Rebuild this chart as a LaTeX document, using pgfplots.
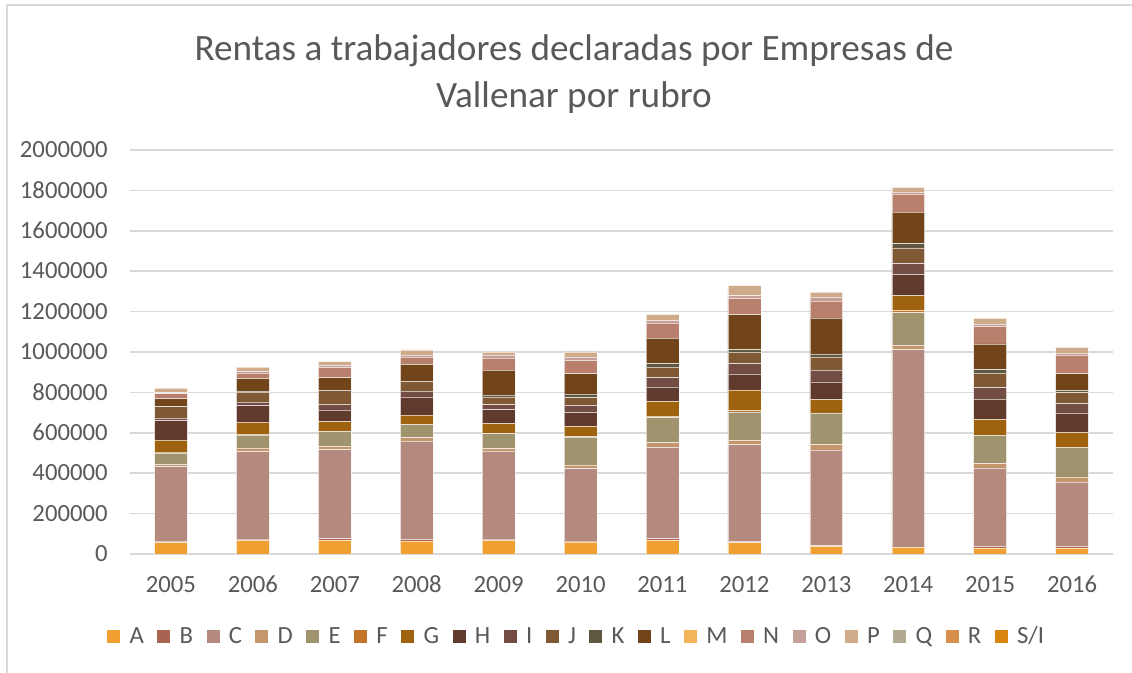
\documentclass[border=0pt]{standalone}
\usepackage{pgfplots}
\pgfplotsset{compat=1.18}
\usepackage{pgfplotstable}
\usepackage{fontspec}
\setmainfont{Carlito}

\definecolor{cText}{HTML}{595959}
\definecolor{cGrid}{HTML}{D9D9D9}
\definecolor{cA}{HTML}{F0A030}
\definecolor{cB}{HTML}{A86450}
\definecolor{cC}{HTML}{B58A7E}
\definecolor{cD}{HTML}{C4966C}
\definecolor{cE}{HTML}{A0946F}
\definecolor{cF}{HTML}{C27428}
\definecolor{cG}{HTML}{9F620E}
\definecolor{cH}{HTML}{613A2E}
\definecolor{cI}{HTML}{734C43}
\definecolor{cJ}{HTML}{7F5834}
\definecolor{cK}{HTML}{5F5841}
\definecolor{cL}{HTML}{72441A}
\definecolor{cM}{HTML}{F4B45A}
\definecolor{cN}{HTML}{B97F6D}
\definecolor{cO}{HTML}{C5A099}
\definecolor{cP}{HTML}{D0AB89}
\definecolor{cQ}{HTML}{B1A990}
\definecolor{cR}{HTML}{D88E4C}
\definecolor{cSI}{HTML}{D9860F}

% values per rubro
\pgfplotstableread{
idx year A     B    C      D     E      F     G      H      I     J     K     L      M Q R N     O     P     SI
0   2005 56000 8000 368000 12000 57000  3000  60000  96000  12000 57000 2000  38000  0 0 0 25000 5000  22000 0
1   2006 68000 5000 434000 17000 66000  2000  61000  82000  17000 51000 2000  64000  0 0 0 28000 7000  21000 0
2   2007 68000 8000 441000 16000 74000  3000  47000  56000  28000 69000 2000  61000  0 0 0 51000 10000 18000 0
3   2008 64000 8000 487000 17000 66000  2000  43000  91000  28000 48000 2000  83000  0 0 0 35000 11000 25000 0
4   2009 68000 5000 436000 13000 74000  2000  49000  68000  25000 38000 8000  124000 0 0 0 61000 15000 13000 0
5   2010 60000 4000 358000 18000 139000 2000  51000  69000  35000 38000 17000 102000 0 0 0 66000 16000 25000 0
6   2011 68000 8000 452000 23000 124000 7000  74000  71000  46000 52000 17000 127000 0 0 0 74000 13000 30000 0
7   2012 56000 7000 479000 21000 140000 8000  102000 79000  51000 56000 13000 173000 0 0 0 81000 13000 50000 0
8   2013 38000 4000 474000 25000 157000 1000  67000  86000  58000 66000 13000 180000 0 0 0 84000 20000 23000 0
9   2014 33000 2000 977000 21000 162000 11000 74000  104000 53000 79000 20000 157000 0 0 0 88000 11000 23000 0
10  2015 30000 8000 388000 21000 140000 1000  79000  100000 56000 72000 18000 127000 0 0 0 87000 12000 26000 5000
11  2016 30000 8000 318000 25000 147000 1000  73000  97000  46000 54000 11000 83000  0 0 0 91000 11000 28000 0
}\rentas

\begin{document}
\begin{tikzpicture}
\useasboundingbox (-65pt,-59.5pt) rectangle (501pt,277pt);
\draw[cGrid, line width=0.75pt] (-61.5pt,-60pt) -- (-61.5pt,274.5pt) -- (502pt,274.5pt);
\node[font=\fontsize{18.6}{23.5}\selectfont, text=cText, align=center, inner sep=0pt]
  at (222pt,240pt) {Rentas a trabajadores declaradas por Empresas de\\Vallenar por rubro};
\begin{axis}[
  at={(0,0)}, anchor=south west, scale only axis,
  width=491.5pt, height=202pt,
  ybar stacked, bar width=0.4,
  xmin=-0.5, xmax=11.5, ymin=0, ymax=2000000,
  xtick=data, xticklabels={2005,2006,2007,2008,2009,2010,2011,2012,2013,2014,2015,2016},
  ytick={0,200000,...,2000000},
  scaled y ticks=false,
  /pgf/number format/.cd, fixed, 1000 sep={}, assume math mode=true, /pgfplots/.cd,
  ymajorgrids, grid style={cGrid, line width=0.75pt},
  axis line style={draw=none}, major tick length=0pt,
  tick label style={font=\fontsize{12.35}{14}\selectfont, text=cText},
  yticklabel style={anchor=base east, inner sep=0pt, xshift=-11pt, yshift=-3.9pt},
  xticklabel style={anchor=base, inner sep=0pt, yshift=-19.5pt},
  every axis plot/.append style={draw=white, draw opacity=0.6, line width=0.25pt},
  legend columns=19,
  legend image code/.code={\fill[#1, draw=none] (0pt,-3.25pt) rectangle (6.5pt,3.25pt);
    \path (9.5pt,0pt);},
  legend style={at={(0.455,-0.205)}, anchor=center, draw=none, fill=none,
    font=\fontsize{12.35}{14}\selectfont, text=cText,
    /tikz/every even column/.append style={column sep=5.25pt},
    nodes={inner sep=1.5pt}},
]
\addplot[fill=cA] table[x=idx,y=A]{\rentas};
\addplot[fill=cB] table[x=idx,y=B]{\rentas};
\addplot[fill=cC] table[x=idx,y=C]{\rentas};
\addplot[fill=cD] table[x=idx,y=D]{\rentas};
\addplot[fill=cE] table[x=idx,y=E]{\rentas};
\addplot[fill=cF] table[x=idx,y=F]{\rentas};
\addplot[fill=cG] table[x=idx,y=G]{\rentas};
\addplot[fill=cH] table[x=idx,y=H]{\rentas};
\addplot[fill=cI] table[x=idx,y=I]{\rentas};
\addplot[fill=cJ] table[x=idx,y=J]{\rentas};
\addplot[fill=cK] table[x=idx,y=K]{\rentas};
\addplot[fill=cL] table[x=idx,y=L]{\rentas};
\addplot[fill=cM] table[x=idx,y=M]{\rentas};
\addplot[fill=cN] table[x=idx,y=N]{\rentas};
\addplot[fill=cO] table[x=idx,y=O]{\rentas};
\addplot[fill=cP] table[x=idx,y=P]{\rentas};
\addplot[fill=cQ] table[x=idx,y=Q]{\rentas};
\addplot[fill=cR] table[x=idx,y=R]{\rentas};
\addplot[fill=cSI] table[x=idx,y=SI]{\rentas};
\legend{A,B,C,D,E,F,G,H,I,J,K,L,M,N,O,P,Q,R,S/I}
\end{axis}
\end{tikzpicture}
\end{document}
